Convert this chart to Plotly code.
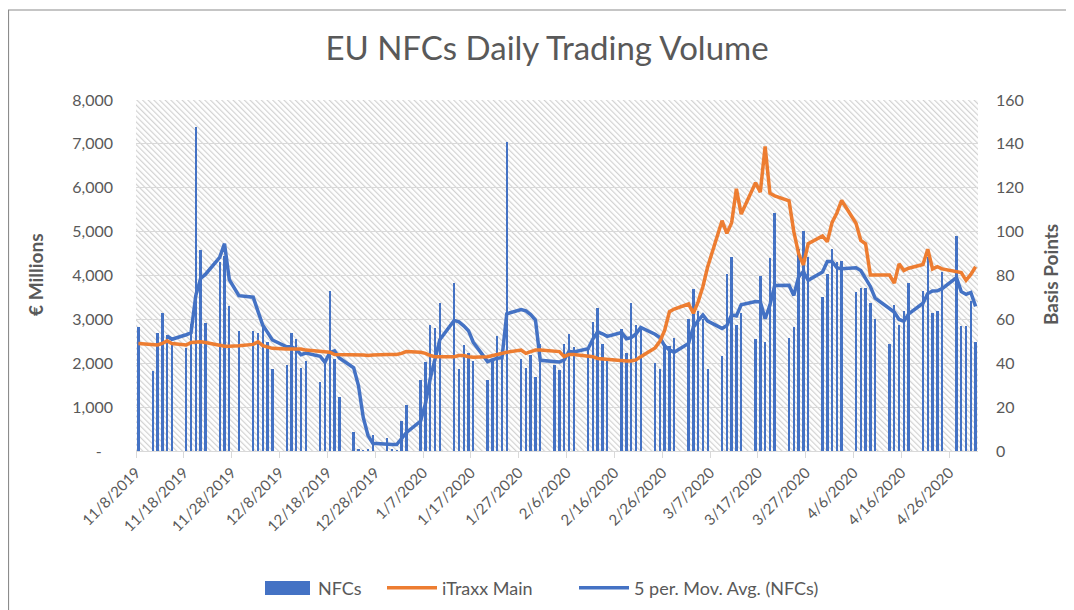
import base64
import pandas as pd
import plotly.graph_objects as go

# ---------------- data ----------------
# weekday dates 11/8/2019 .. 5/1/2020
dates = pd.bdate_range("2019-11-08", "2020-05-01")

# NFCs daily trading volume (EUR millions); None = no trading day
nfcs = [
    2830,
    1820, 2680, 3140, 2640, 2450,
    2340, 2900, 7390, 4580, 2910,
    4300, 4450, 3300, None, 2740,
    2740, 2680, 2870, 2490, 1870,
    1960, 2700, 2550, 1900, 2050,
    1580, 2040, 3650, 2100, 1240,
    440, 30, 20, 30, 360,
    290, 40, 20, 680, 1050,
    1620, 2020, 2870, 2800, 3370,
    3820, 1860, 2420, 2240, 2050,
    1620, 2050, 2620, 2300, 7050,
    2100, 1900, 2190, 1690, 2450,
    1960, 1850, 2430, 2670, 2380,
    2330, 2950, 3250, 2450, 2080,
    2780, 2240, 3370, 2870, 2830,
    2000, 1860, 2430, 2400, 2570,
    3000, 3700, 3200, 3020, 1880,
    2170, 4040, 4420, 2880, 3150,
    2550, 4000, 2490, 4410, 5420,
    2580, 2830, 4600, 5020, 4430,
    3520, 4030, 4600, 4300, 4320,
    3630, 3720, 3710, 3370, 3000,
    2430, 3320, 2870, 3180, 3820,
    3650, 4430, 3150, 3200, 4070,
    4900, 2840, 2840, 3420, 2480,
]

# iTraxx Main (basis points)
itraxx = [
    49.0,
    48.3, 48.3, 49.0, 50.2, 49.0,
    48.3, 49.5, 49.8, 49.8, 49.5,
    48.0, 47.8, 47.8, 47.8, 48.0,
    48.6, 49.8, 48.0, 47.6, 46.8,
    46.5, 46.5, 46.8, 46.5, 46.0,
    45.3, 45.3, 45.0, 44.0, 44.0,
    44.0, 43.8, 43.8, 43.5, 43.8,
    44.0, 43.8, 44.0, 44.5, 45.3,
    45.0, 44.5, 43.5, 43.0, 43.0,
    43.0, 43.5, 43.5, 43.0, 42.7,
    43.0, 43.5, 43.8, 44.5, 45.0,
    46.0, 44.5, 45.3, 46.0, 46.0,
    45.3, 45.3, 43.0, 44.0, 44.0,
    43.3, 43.0, 42.2, 42.0, 41.5,
    41.0, 41.0, 41.0, 41.5, 43.0,
    47.0, 50.0, 55.0, 63.5, 64.7,
    67.0, 62.8, 68.0, 75.0, 84.0,
    105.0, 99.2, 104.0, 119.5, 108.0,
    122.3, 118.0, 138.8, 117.5, 116.3,
    114.0, 100.0, 90.0, 84.8, 94.5,
    98.0, 95.4, 104.2, 108.5, 114.2,
    103.8, 96.0, 94.5, 80.2, 80.2,
    80.2, 76.5, 85.3, 82.3, 83.3,
    85.0, 92.0, 83.0, 84.0, 83.0,
    81.5, 81.3, 77.8, 80.5, 84.0,
]

x_tick_labels = ["11/8/2019", "11/18/2019", "11/28/2019", "12/8/2019", "12/18/2019",
                 "12/28/2019", "1/7/2020", "1/17/2020", "1/27/2020", "2/6/2020",
                 "2/16/2020", "2/26/2020", "3/7/2020", "3/17/2020", "3/27/2020",
                 "4/6/2020", "4/16/2020", "4/26/2020"]
y_left_ticks = [0, 1000, 2000, 3000, 4000, 5000, 6000, 7000, 8000]
y_left_labels = ["-\u2007\u2009", "1,000", "2,000", "3,000", "4,000", "5,000", "6,000", "7,000", "8,000"]
y_right_ticks = [0, 20, 40, 60, 80, 100, 120, 140, 160]

# ---------------- derived ----------------
half_day = pd.Timedelta(hours=12)
xpos = dates + half_day
s = pd.Series(nfcs, index=xpos, dtype=float)
valid = s.dropna()
ma = valid.rolling(5).mean().dropna()
tickvals = pd.to_datetime(x_tick_labels, format="%m/%d/%Y")

GRAY = "#595959"
BLUE = "#4472C4"
ORANGE = "#ED7D31"
FONT = "Lato"

# page offset of the figure (default body margin of the html page)
OFF = 8
# wanted plot area in page pixels
PL, PR, PT, PB = 136, 978, 100, 451
FW, FH = 1074, 610
PW, PH = PR - PL, PB - PT


def px(xp):
    return (xp - PL) / PW


def py(yp):
    return (PB - yp) / PH


fig = go.Figure()
fig.add_trace(go.Bar(x=valid.index, y=valid.values, name="NFCs", marker_color=BLUE,
                     marker_line_width=0, width=0.5 * 86400000, yaxis="y", legend="legend"))
fig.add_trace(go.Scatter(x=xpos, y=itraxx, name="iTraxx Main", mode="lines",
                         line=dict(color=ORANGE, width=3.5), yaxis="y2", legend="legend2"))
fig.add_trace(go.Scatter(x=ma.index, y=ma.values, name="5 per. Mov. Avg. (NFCs)", mode="lines",
                         line=dict(color=BLUE, width=3.5), yaxis="y", legend="legend3"))

# hatched plot background
svg = (f'<svg xmlns="http://www.w3.org/2000/svg" width="{PW}" height="{PH}" viewBox="0 0 {PW} {PH}" '
       f'preserveAspectRatio="none"><defs><pattern id="p" width="4" height="4" '
       f'patternUnits="userSpaceOnUse" patternTransform="rotate(-45)">'
       f'<rect width="4" height="4" fill="#ffffff"/>'
       f'<rect x="0" y="0" width="1.2" height="4" fill="#d2d2d2"/></pattern></defs>'
       f'<rect width="{PW}" height="{PH}" fill="url(#p)"/></svg>')
src = "data:image/svg+xml;base64," + base64.b64encode(svg.encode()).decode()

legend_common = dict(orientation="h", yanchor="middle", y=py(588), xanchor="left",
                     font=dict(size=18, color=GRAY), itemwidth=50, bgcolor="rgba(0,0,0,0)")

fig.update_layout(
    width=FW, height=FH,
    margin=dict(l=PL - OFF, r=FW - (PR - OFF), t=PT - OFF, b=FH - (PB - OFF), autoexpand=False),
    paper_bgcolor="white", plot_bgcolor="rgba(0,0,0,0)",
    font=dict(family=FONT, color=GRAY, size=16),
    title=dict(text="EU NFCs Daily Trading Volume", x=(547 - OFF) / FW, xanchor="center",
               y=1 - (48 - OFF) / FH, yanchor="middle", font=dict(size=33, color=GRAY, family=FONT)),
    bargap=0,
    showlegend=True,
    legend=dict(legend_common, x=px(258)),
    legend2=dict(legend_common, x=px(382)),
    legend3=dict(legend_common, x=px(574)),
    images=[dict(source=src, xref="paper", yref="paper", x=0, y=1, sizex=1, sizey=1,
                 xanchor="left", yanchor="top", sizing="stretch", layer="below")],
    xaxis=dict(type="date", range=[pd.Timestamp("2019-11-08"), pd.Timestamp("2020-05-02")],
               tickvals=tickvals, ticktext=x_tick_labels, tickangle=-45,
               ticks="outside", ticklen=6, tickcolor="#d9d9d9", showgrid=False,
               showline=True, linecolor="#d9d9d9", linewidth=1, automargin=False,
               tickfont=dict(size=15, color=GRAY)),
    yaxis=dict(range=[0, 8000], tickvals=y_left_ticks, ticktext=y_left_labels,
               showgrid=True, gridcolor="#d9d9d9", gridwidth=1, zeroline=False, automargin=False,
               ticks="", ticklabelstandoff=22, tickfont=dict(size=16, color=GRAY)),
    yaxis2=dict(range=[0, 160], tickvals=y_right_ticks, overlaying="y", side="right",
                showgrid=False, zeroline=False, ticks="", ticklabelstandoff=17, automargin=False,
                tickfont=dict(size=16, color=GRAY)),
    annotations=[
        dict(text="<b>€ Millions</b>", xref="paper", yref="paper", x=px(35), y=py(275),
             xanchor="center", yanchor="middle",
             textangle=-90, showarrow=False, font=dict(size=19, color=GRAY)),
        dict(text="<b>Basis Points</b>", xref="paper", yref="paper", x=px(1050), y=py(275),
             xanchor="center", yanchor="middle",
             textangle=-90, showarrow=False, font=dict(size=19, color=GRAY)),
    ],
    shapes=[
        dict(type="rect", xref="paper", yref="paper",
             x0=px(OFF + 0.5), x1=px(1072), y0=py(640), y1=py(10),
             line=dict(color="#8c8c8c", width=1.2), fillcolor="rgba(0,0,0,0)", layer="below"),
        # wide legend swatch for the NFCs bars (Excel-style)
        dict(type="rect", xref="paper", yref="paper",
             x0=px(265), x1=px(310), y0=py(595), y1=py(581),
             line=dict(width=0), fillcolor=BLUE, layer="above"),
    ],
)

fig.write_html("out.html")
